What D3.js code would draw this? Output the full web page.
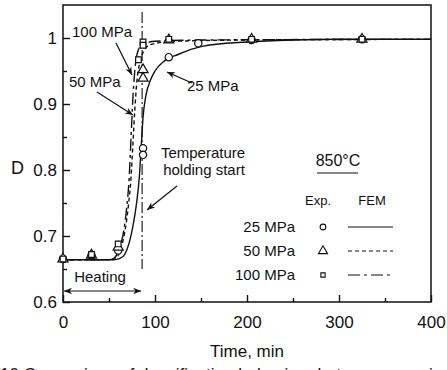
<!DOCTYPE html>
<html>
<head>
<meta charset="utf-8">
<script src="https://cdn.jsdelivr.net/npm/d3@7"></script>
<style>
  body { margin: 0; background: #fff; }
  svg { display: block; font-family: "Liberation Sans", Arial, sans-serif; }
  text { fill: #111; }
</style>
</head>
<body>
<div id="chart"></div>
<script>
// experiment points [time (min), D]
const exp25 = [[0, 0.665], [31, 0.671], [60, 0.678], [87, 0.833], [87, 0.823], [115, 0.971], [147, 0.992], [205, 0.997], [325, 0.998]];
const exp50 = [[0, 0.665], [31, 0.671], [60, 0.683], [87, 0.952], [87, 0.939], [115, 0.997], [205, 0.998], [325, 0.998]];
const exp100 = [[0, 0.665], [31, 0.672], [60, 0.688], [82, 0.967], [87, 0.994], [87, 0.989], [115, 0.998], [205, 0.998], [325, 0.998]];

// FEM curves
const fem25 = [[0, 0.664], [55, 0.664], [62, 0.666], [67, 0.672], [72, 0.69], [76, 0.715], [80, 0.75], [83, 0.79], [85, 0.835], [87, 0.88], [90, 0.912], [95, 0.936], [100, 0.95], [110, 0.965], [125, 0.975], [150, 0.987], [200, 0.994], [250, 0.997], [300, 0.998], [400, 0.998]];
const fem50 = [[0, 0.664], [52, 0.664], [58, 0.667], [63, 0.682], [67, 0.705], [71, 0.745], [74, 0.79], [76, 0.84], [78, 0.89], [80, 0.93], [83, 0.96], [87, 0.978], [95, 0.99], [120, 0.995], [200, 0.997], [400, 0.998]];
const fem100 = [[0, 0.664], [50, 0.664], [56, 0.667], [61, 0.68], [65, 0.7], [69, 0.74], [72, 0.79], [74, 0.85], [76, 0.91], [78, 0.95], [81, 0.978], [86, 0.99], [100, 0.995], [150, 0.997], [400, 0.998]];

const xTicks = [0, 100, 200, 300, 400];
const xMinor = [50, 150, 250, 350];
const yTicks = [0.6, 0.7, 0.8, 0.9, 1];
const yMinor = [0.65, 0.75, 0.85, 0.95];
const holdStart = 86;

const width = 447, height = 370;
const svg = d3.select("#chart").append("svg").attr("width", width).attr("height", height);

const x = d3.scaleLinear().domain([0, 400]).range([63, 431]);
const y = d3.scaleLinear().domain([0.6, 1.05]).range([302, 5]);

svg.append("defs").append("marker")
    .attr("id", "arr").attr("viewBox", "0 0 10 10").attr("refX", 10).attr("refY", 5)
    .attr("markerWidth", 11).attr("markerHeight", 8).attr("markerUnits", "userSpaceOnUse")
    .attr("orient", "auto-start-reverse")
    .append("path").attr("d", "M0,1 L10,5 L0,9 L3,5 Z").attr("fill", "#111");

// frame
svg.append("rect").attr("x", x(0)).attr("y", y(1.05)).attr("width", x(400) - x(0)).attr("height", y(0.6) - y(1.05))
    .attr("fill", "none").attr("stroke", "#111").attr("stroke-width", 1.5);

// axes with inward ticks
svg.append("g").attr("transform", `translate(0,${y(0.6)})`)
    .call(d3.axisBottom(x).tickValues(xTicks).tickSize(-7).tickPadding(14).tickFormat(d3.format("d")));
svg.append("g").attr("transform", `translate(0,${y(0.6)})`)
    .call(d3.axisBottom(x).tickValues(xMinor).tickSize(-4).tickFormat(""));
svg.append("g").attr("transform", `translate(${x(0)},0)`)
    .call(d3.axisLeft(y).tickValues(yTicks).tickSize(-7).tickPadding(6).tickFormat(d => d === 1 ? "1" : d3.format(".1f")(d)));
svg.append("g").attr("transform", `translate(${x(0)},0)`)
    .call(d3.axisLeft(y).tickValues(yMinor).tickSize(-4).tickFormat(""));
svg.selectAll(".domain").remove();
svg.selectAll(".tick line").attr("stroke", "#111").attr("stroke-width", 1.4);
svg.selectAll(".tick text").attr("font-size", 17).attr("font-family", "Liberation Sans, Arial, sans-serif").attr("fill", "#111");

svg.append("text").attr("x", 247).attr("y", 357).attr("text-anchor", "middle").attr("font-size", 17).text("Time, min");
svg.append("text").attr("x", 11).attr("y", 174).attr("font-size", 18).text("D");

// holding start line
svg.append("line").attr("x1", x(holdStart)).attr("x2", x(holdStart)).attr("y1", 12).attr("y2", y(0.65))
    .attr("stroke", "#111").attr("stroke-width", 1.1).attr("stroke-dasharray", "11,3,2,3");

// FEM curves
const line = d3.line().x(d => x(d[0])).y(d => y(d[1])).curve(d3.curveMonotoneX);
const styles = [
    { data: fem25, dash: null },
    { data: fem50, dash: "4,3" },
    { data: fem100, dash: "12,4,3,4" }
];
styles.forEach(s => {
    svg.append("path").datum(s.data).attr("d", line).attr("fill", "none")
        .attr("stroke", "#111").attr("stroke-width", 1.4).attr("stroke-dasharray", s.dash);
});

// experiment markers
const sym = {
    circle: d3.symbol().type(d3.symbolCircle).size(42),
    triangle: d3.symbol().type(d3.symbolTriangle).size(44),
    square: d3.symbol().type(d3.symbolSquare).size(32)
};
[[exp25, "circle"], [exp50, "triangle"], [exp100, "square"]].forEach(([pts, t]) => {
    svg.append("g").selectAll("path").data(pts).enter().append("path")
        .attr("d", sym[t]).attr("transform", d => `translate(${x(d[0])},${y(d[1])})`)
        .attr("fill", "#fff").attr("stroke", "#111").attr("stroke-width", 1.2);
});

// annotations
function arrow(x1, y1, x2, y2, both) {
    const l = svg.append("line").attr("x1", x1).attr("y1", y1).attr("x2", x2).attr("y2", y2)
        .attr("stroke", "#111").attr("stroke-width", 1.2).attr("marker-end", "url(#arr)");
    if (both) l.attr("marker-start", "url(#arr)");
}
svg.append("text").attr("x", 72).attr("y", 37).attr("font-size", 15).text("100 MPa");
arrow(116, 43, 132, 75);
svg.append("text").attr("x", 69).attr("y", 87).attr("font-size", 15).text("50 MPa");
arrow(97, 92, 133, 115);
svg.append("text").attr("x", 187).attr("y", 91).attr("font-size", 15).text("25 MPa");
arrow(192, 83, 167, 72);
svg.append("text").attr("x", 203).attr("y", 158).attr("text-anchor", "middle").attr("font-size", 15).text("Temperature");
svg.append("text").attr("x", 204).attr("y", 175).attr("text-anchor", "middle").attr("font-size", 15).text("holding start");
arrow(177, 186, 147, 210);
svg.append("text").attr("x", 100).attr("y", 282).attr("text-anchor", "middle").attr("font-size", 15).text("Heating");
arrow(x(0) + 1, 291, x(holdStart) - 1, 291, true);

// legend
const lg = svg.append("g");
lg.append("text").attr("x", 338).attr("y", 166).attr("text-anchor", "middle").attr("font-size", 16).text("850°C");
lg.append("line").attr("x1", 317).attr("x2", 358).attr("y1", 173).attr("y2", 173).attr("stroke", "#111").attr("stroke-width", 1.2);
lg.append("text").attr("x", 318).attr("y", 205).attr("text-anchor", "middle").attr("font-size", 13).text("Exp.");
lg.append("text").attr("x", 372).attr("y", 205).attr("text-anchor", "middle").attr("font-size", 13).text("FEM");
const legRows = ["25 MPa", "50 MPa", "100 MPa"];
legRows.forEach((lab, i) => {
    const cy = 227 + i * 24;
    lg.append("text").attr("x", 295).attr("y", cy + 5).attr("text-anchor", "end").attr("font-size", 15).text(lab);
    lg.append("path").attr("d", d3.symbol().type([d3.symbolCircle, d3.symbolTriangle, d3.symbolSquare][i]).size([26, 36, 18][i]))
        .attr("transform", `translate(323,${cy})`).attr("fill", "#fff").attr("stroke", "#111").attr("stroke-width", 1.1);
    lg.append("line").attr("x1", 348).attr("x2", 393).attr("y1", cy).attr("y2", cy)
        .attr("stroke", "#111").attr("stroke-width", 1.2).attr("stroke-dasharray", styles[i].dash);
});

// caption, cut off by the page edge as in the source
svg.append("text").attr("x", 0).attr("y", 380).attr("font-size", 17).text("10  Comparison of densification behaviour between experiments and FEM");
</script>
</body>
</html>
